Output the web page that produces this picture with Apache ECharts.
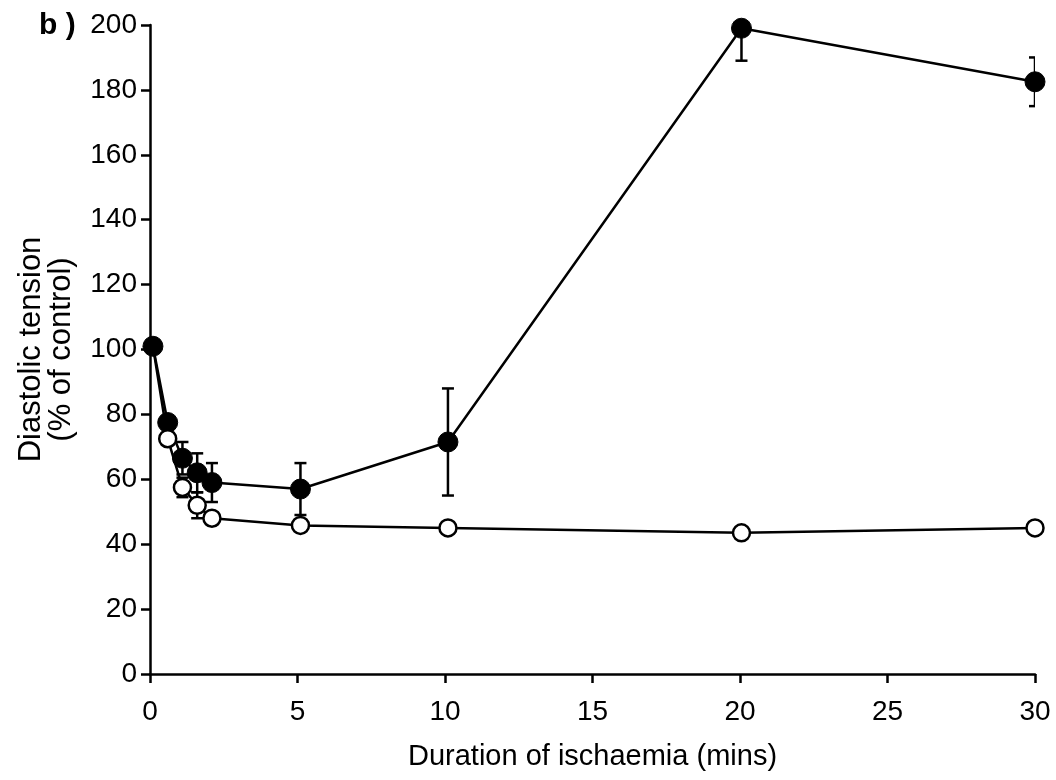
<!DOCTYPE html>
<html>
<head>
<meta charset="utf-8">
<script src="https://cdn.jsdelivr.net/npm/echarts@6/dist/echarts.min.js"></script>
<style>
  html, body { margin: 0; padding: 0; background: #fff; }
  #chart { width: 1056px; height: 780px; }
</style>
</head>
<body>
<div id="chart"></div>
<script>
// time points (mins)
var minutes = [0.1, 0.6, 1.1, 1.6, 2.1, 5.1, 10.1, 20.05, 30];

// filled circles
var filledMean = [101, 77.5, 66.5, 62, 59, 57, 71.5, 199, 182.5];
var filledErr  = [0, 2, 5, 6, 6, 8, 16.5, 10, 7.5];

// open circles
var openMean = [101, 72.5, 57.5, 52, 48, 45.8, 45, 43.5, 45];
var openErr  = [0, 1, 3, 4, 1.5, 1.5, 1, 1.5, 1];

var yTicks = [0, 20, 40, 60, 80, 100, 120, 140, 160, 180, 200];
var xTicks = [0, 5, 10, 15, 20, 25, 30];

function pairs(xs, ys){
    var out = [];
    for (var i = 0; i < xs.length; i++) out.push([xs[i], ys[i]]);
    return out;
}

function errData(xs, ys, es){
    var out = [];
    for (var i = 0; i < xs.length; i++) {
        if (es[i] > 0) out.push([xs[i], ys[i] - es[i], ys[i] + es[i]]);
    }
    return out;
}

// error bar with caps
function renderErr(params, api){
    var x = api.value(0);
    var lo = api.coord([x, api.value(1)]);
    var hi = api.coord([x, api.value(2)]);
    var half = 6;
    var st = { stroke: '#000', lineWidth: 2.5 };
    return {
        type: 'group',
        children: [
            { type: 'line', shape: { x1: lo[0], y1: lo[1], x2: hi[0], y2: hi[1] }, style: st },
            { type: 'line', shape: { x1: lo[0] - half, y1: lo[1], x2: lo[0] + half, y2: lo[1] }, style: st },
            { type: 'line', shape: { x1: hi[0] - half, y1: hi[1], x2: hi[0] + half, y2: hi[1] }, style: st }
        ]
    };
}

var font = 'Liberation Sans, Arial, Helvetica, sans-serif';
var myChart = echarts.init(document.getElementById('chart'));

// open series: hide the first symbol, the filled one sits on top there
var openData = pairs(minutes, openMean).map(function(p, i){
    return i === 0 ? { value: p, symbol: 'none' } : p;
});

var option = {
    backgroundColor: '#fff',
    animation: false,
    title: {
        text: 'b )',
        left: 34,
        top: 6,
        textStyle: { fontFamily: font, fontSize: 30, fontWeight: 'bold', color: '#000' }
    },
    grid: { left: 150, right: 21, top: 25, bottom: 106, outerBoundsMode: 'none' },
    xAxis: {
        type: 'value',
        min: 0,
        max: 30,
        interval: 5,
        name: 'Duration of ischaemia (mins)',
        nameLocation: 'middle',
        nameGap: 68,
        nameTextStyle: { fontFamily: font, fontSize: 29, color: '#000' },
        axisLine: { lineStyle: { color: '#000', width: 2.5 } },
        axisTick: { length: 9, lineStyle: { color: '#000', width: 2.5 } },
        axisLabel: {
            fontFamily: font, fontSize: 28, color: '#000', margin: 24,
            formatter: function(v){ return xTicks.indexOf(v) >= 0 ? String(v) : ''; }
        },
        splitLine: { show: false }
    },
    yAxis: {
        type: 'value',
        min: 0,
        max: 200,
        interval: 20,
        name: 'Diastolic tension\n(% of control)',
        nameLocation: 'middle',
        nameGap: 74,
        nameRotate: 90,
        nameTextStyle: { fontFamily: font, fontSize: 31, color: '#000', lineHeight: 30 },
        axisLine: { lineStyle: { color: '#000', width: 2.5 } },
        axisTick: { length: 9, lineStyle: { color: '#000', width: 2.5 } },
        axisLabel: {
            fontFamily: font, fontSize: 28, color: '#000', margin: 13,
            formatter: function(v){ return yTicks.indexOf(v) >= 0 ? String(v) : ''; }
        },
        splitLine: { show: false }
    },
    series: [
        {
            type: 'custom',
            renderItem: renderErr,
            data: errData(minutes, filledMean, filledErr),
            encode: { x: 0, y: [1, 2] },
            clip: true,
            z: 1
        },
        {
            type: 'line',
            data: pairs(minutes, filledMean),
            symbol: 'circle',
            symbolSize: 20,
            clip: false,
            itemStyle: { color: '#000', borderColor: '#000' },
            lineStyle: { color: '#000', width: 2.5 },
            z: 2
        },
        {
            type: 'custom',
            renderItem: renderErr,
            data: errData(minutes, openMean, openErr),
            encode: { x: 0, y: [1, 2] },
            clip: false,
            z: 3
        },
        {
            type: 'line',
            data: openData,
            symbol: 'circle',
            symbolSize: 17,
            clip: false,
            itemStyle: { color: '#fff', borderColor: '#000', borderWidth: 2.5 },
            lineStyle: { color: '#000', width: 2.5 },
            z: 4
        }
    ]
};
myChart.setOption(option);
</script>
</body>
</html>
